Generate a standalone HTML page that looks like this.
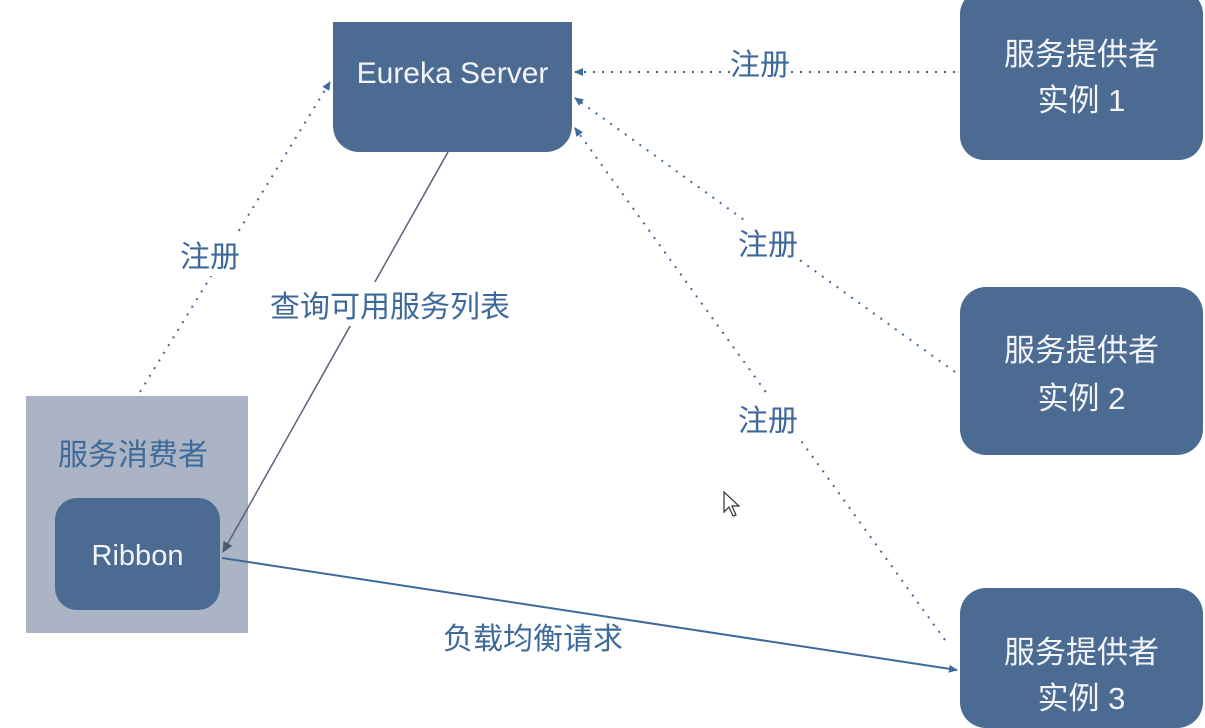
<!DOCTYPE html>
<html><head><meta charset="utf-8"><style>
body{margin:0;width:1205px;height:710px;overflow:hidden;background:#fff;font-family:"Liberation Sans","Noto Sans CJK SC",sans-serif;}
.b{position:absolute;background:#4c6b93;color:#f2f4f8;text-align:center;}
.t{position:absolute;color:#3d6a9a;font-size:30px;white-space:nowrap;}
</style></head><body>
<div class="b" style="left:333px;top:22px;width:239px;height:130px;border-radius:0 0 26px 26px;font-size:30px;line-height:104px;">Eureka Server</div>
<div class="b" style="left:960px;top:-10px;width:243px;height:170px;border-radius:24px;font-size:31px;line-height:46px;padding-top:42px;box-sizing:border-box;">服务提供者<br>实例 1</div>
<div class="b" style="left:960px;top:287px;width:243px;height:168px;border-radius:26px;font-size:31px;line-height:48px;padding-top:40px;box-sizing:border-box;">服务提供者<br>实例 2</div>
<div class="b" style="left:960px;top:588px;width:243px;height:140px;border-radius:26px;font-size:31px;line-height:46px;padding-top:42px;box-sizing:border-box;">服务提供者<br>实例 3</div>
<div style="position:absolute;left:26px;top:396px;width:222px;height:237px;background:#abb4c4;"></div>
<div class="t" style="left:58px;top:430px;">服务消费者</div>
<div class="b" style="left:55px;top:498px;width:165px;height:112px;border-radius:22px;font-size:29px;line-height:116px;">Ribbon</div>
<svg width="1205" height="710" style="position:absolute;left:0;top:0">
<defs><marker id="a" markerWidth="10" markerHeight="10" refX="8" refY="5" orient="auto" markerUnits="userSpaceOnUse"><path d="M0,1 L9,5 L0,9z" fill="#3d6a9a"/></marker>
<marker id="g" markerWidth="12" markerHeight="12" refX="10" refY="6" orient="auto" markerUnits="userSpaceOnUse"><path d="M0,1 L11,6 L0,11z" fill="#4a5a70"/></marker></defs>
<g stroke="#3d6a9a" stroke-width="2" stroke-dasharray="2 7" fill="none" marker-end="url(#a)">
<line x1="140" y1="392" x2="330" y2="82"/>
<line x1="955" y1="72" x2="575" y2="72"/>
<line x1="955" y1="372" x2="575" y2="98"/>
<line x1="945" y1="640" x2="575" y2="128"/>
</g>
<line x1="448" y1="152" x2="223" y2="552" stroke="#55657a" stroke-width="1.5" marker-end="url(#g)"/>
<line x1="222" y1="558" x2="957" y2="670" stroke="#3d6a9a" stroke-width="2" marker-end="url(#a)"/>
<path d="M724,492 L724,512 L729,507 L733,516 L736,515 L732,506 L739,506 Z" fill="#fff" stroke="#333" stroke-width="1.2"/>
</svg>
<div class="t" style="left:180px;top:232px;background:#fff;">注册</div>
<div class="t" style="left:270px;top:282px;background:#fff;">查询可用服务列表</div>
<div class="t" style="left:730px;top:40px;background:#fff;">注册</div>
<div class="t" style="left:738px;top:220px;background:#fff;">注册</div>
<div class="t" style="left:738px;top:396px;background:#fff;">注册</div>
<div class="t" style="left:443px;top:614px;">负载均衡请求</div>
</body></html>
